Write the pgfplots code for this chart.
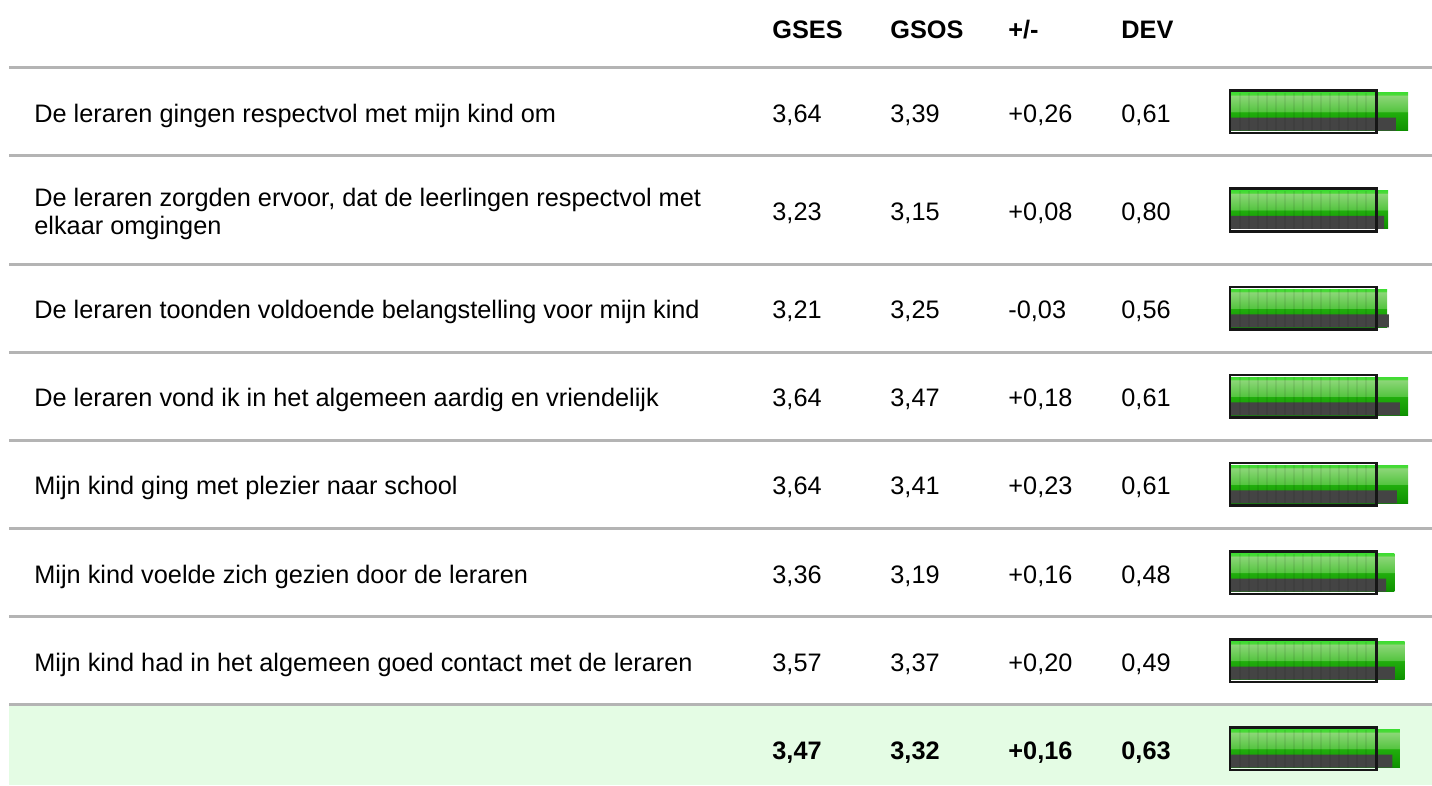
\documentclass[border=0pt]{standalone}
\usepackage{pgfplots}
\pgfplotsset{compat=1.18}
\usepackage{pgfplotstable}
\usepackage{fontspec}
\setmainfont{Liberation Sans}

\definecolor{rulegray}{RGB}{180,180,180}
\definecolor{sumbg}{RGB}{228,252,228}
\definecolor{bargray}{RGB}{68,68,68}
\definecolor{framec}{RGB}{22,22,22}

% path bbox maps to 25bp (bottom) .. 75bp (top)
\pgfdeclareverticalshading{greenbar}{100bp}{%
  rgb(0bp)=(0.04,0.55,0);
  rgb(25bp)=(0.04,0.55,0);
  rgb(27bp)=(0.06,0.58,0);
  rgb(49.5bp)=(0.13,0.68,0.05);
  rgb(50bp)=(0.33,0.77,0.25);
  rgb(71bp)=(0.55,0.84,0.47);
  rgb(72.5bp)=(0.30,0.85,0.22);
  rgb(75bp)=(0.25,0.86,0.20);
  rgb(100bp)=(0.25,0.86,0.20)}

\pgfplotstableread{
y     gses  gsos
111.7 3.64  3.39
209.8 3.23  3.15
308.3 3.21  3.25
396.3 3.64  3.47
484.3 3.64  3.41
572.6 3.36  3.19
660.6 3.57  3.37
748.7 3.47  3.32
}\bardata

\begin{document}
\begin{tikzpicture}
\fontsize{12.65bp}{14bp}\selectfont
\begin{axis}[name=main, x=0.5bp, y=0.5bp, y dir=reverse,
  xmin=0, xmax=1432, ymin=0, ymax=785, hide axis, clip=false]
  % summary background
  \fill[sumbg] (axis cs:9,705) rectangle (axis cs:1432,785);
  % rules
  \foreach \yy in {67,155.7,264,352,440,528,616.7,704}{
    \edef\temp{\noexpand\draw[rulegray, line width=1.5bp] (axis cs:9,\yy) -- (axis cs:1432,\yy);}
    \temp
  }
  % header
  \node[anchor=base west, inner sep=0, font=\bfseries] at (axis cs:772,38.3) {GSES};
  \node[anchor=base west, inner sep=0, font=\bfseries] at (axis cs:890,38.3) {GSOS};
  \node[anchor=base west, inner sep=0, font=\bfseries] at (axis cs:1008,38.3) {+/-};
  \node[anchor=base west, inner sep=0, font=\bfseries] at (axis cs:1121,38.3) {DEV};
  % row 1
  \node[anchor=base west, inner sep=0] at (axis cs:34,122.2) {De leraren gingen respectvol met mijn kind om};
  \node[anchor=base west, inner sep=0] at (axis cs:772,122.2) {3,64};
  \node[anchor=base west, inner sep=0] at (axis cs:890,122.2) {3,39};
  \node[anchor=base west, inner sep=0] at (axis cs:1008,122.2) {+0,26};
  \node[anchor=base west, inner sep=0] at (axis cs:1121,122.2) {0,61};
  % row 2
  \node[anchor=base west, inner sep=0] at (axis cs:34,206.3) {De leraren zorgden ervoor, dat de leerlingen respectvol met};
  \node[anchor=base west, inner sep=0] at (axis cs:34,234.3) {elkaar omgingen};
  \node[anchor=base west, inner sep=0] at (axis cs:772,220.3) {3,23};
  \node[anchor=base west, inner sep=0] at (axis cs:890,220.3) {3,15};
  \node[anchor=base west, inner sep=0] at (axis cs:1008,220.3) {+0,08};
  \node[anchor=base west, inner sep=0] at (axis cs:1121,220.3) {0,80};
  % row 3
  \node[anchor=base west, inner sep=0] at (axis cs:34,318.8) {De leraren toonden voldoende belangstelling voor mijn kind};
  \node[anchor=base west, inner sep=0] at (axis cs:772,318.8) {3,21};
  \node[anchor=base west, inner sep=0] at (axis cs:890,318.8) {3,25};
  \node[anchor=base west, inner sep=0] at (axis cs:1008,318.8) {-0,03};
  \node[anchor=base west, inner sep=0] at (axis cs:1121,318.8) {0,56};
  % row 4
  \node[anchor=base west, inner sep=0] at (axis cs:34,406.8) {De leraren vond ik in het algemeen aardig en vriendelijk};
  \node[anchor=base west, inner sep=0] at (axis cs:772,406.8) {3,64};
  \node[anchor=base west, inner sep=0] at (axis cs:890,406.8) {3,47};
  \node[anchor=base west, inner sep=0] at (axis cs:1008,406.8) {+0,18};
  \node[anchor=base west, inner sep=0] at (axis cs:1121,406.8) {0,61};
  % row 5
  \node[anchor=base west, inner sep=0] at (axis cs:34,494.8) {Mijn kind ging met plezier naar school};
  \node[anchor=base west, inner sep=0] at (axis cs:772,494.8) {3,64};
  \node[anchor=base west, inner sep=0] at (axis cs:890,494.8) {3,41};
  \node[anchor=base west, inner sep=0] at (axis cs:1008,494.8) {+0,23};
  \node[anchor=base west, inner sep=0] at (axis cs:1121,494.8) {0,61};
  % row 6
  \node[anchor=base west, inner sep=0] at (axis cs:34,583.1) {Mijn kind voelde zich gezien door de leraren};
  \node[anchor=base west, inner sep=0] at (axis cs:772,583.1) {3,36};
  \node[anchor=base west, inner sep=0] at (axis cs:890,583.1) {3,19};
  \node[anchor=base west, inner sep=0] at (axis cs:1008,583.1) {+0,16};
  \node[anchor=base west, inner sep=0] at (axis cs:1121,583.1) {0,48};
  % row 7
  \node[anchor=base west, inner sep=0] at (axis cs:34,671.1) {Mijn kind had in het algemeen goed contact met de leraren};
  \node[anchor=base west, inner sep=0] at (axis cs:772,671.1) {3,57};
  \node[anchor=base west, inner sep=0] at (axis cs:890,671.1) {3,37};
  \node[anchor=base west, inner sep=0] at (axis cs:1008,671.1) {+0,20};
  \node[anchor=base west, inner sep=0] at (axis cs:1121,671.1) {0,49};
  % summary
  \node[anchor=base west, inner sep=0, font=\bfseries] at (axis cs:772,759.2) {3,47};
  \node[anchor=base west, inner sep=0, font=\bfseries] at (axis cs:890,759.2) {3,32};
  \node[anchor=base west, inner sep=0, font=\bfseries] at (axis cs:1008,759.2) {+0,16};
  \node[anchor=base west, inner sep=0, font=\bfseries] at (axis cs:1121,759.2) {0,63};
\end{axis}

\begin{axis}[x=24.45bp, y=0.5bp, y dir=reverse,
  xmin=-25.1534, xmax=4.1309, ymin=0, ymax=785, hide axis, clip=false]
  % GSES (green), one plot per row so each bar gets its own gradient
  \pgfplotsinvokeforeach{0,...,7}{
    \addplot[xbar, bar width=38, draw=none, shading=greenbar,
      restrict expr to domain={\coordindex}{#1:#1}]
      table[x=gses, y=y] {\bardata};
  }
  % GSOS (gray)
  \addplot[xbar, bar width=13, draw=none, fill=bargray]
    table[x=gsos, y expr=\thisrow{y}+12.5] {\bardata};
  % scale stripes
  \pgfplotsextra{
    \foreach \yc in {111.7,209.8,308.3,396.3,484.3,572.6,660.6,748.7}{
      \foreach \k in {1,...,15}{
        \pgfmathsetmacro{\xx}{\k*0.184+0.02}
        \pgfmathsetmacro{\ya}{\yc-19}
        \pgfmathsetmacro{\yb}{\yc+19}
        \draw[black, opacity=0.07, line width=1bp] (axis cs:\xx,\ya) -- (axis cs:\xx,\yb);
      }
    }
  }
  % frame (scale 0..3)
  \addplot[xbar, bar width=42.7, draw=framec, fill=none, line width=1.4bp]
    table[x expr=3, y=y] {\bardata};
\end{axis}
\pgfresetboundingbox
\path[use as bounding box] (main.south west) rectangle (main.north east);
\end{tikzpicture}
\end{document}
